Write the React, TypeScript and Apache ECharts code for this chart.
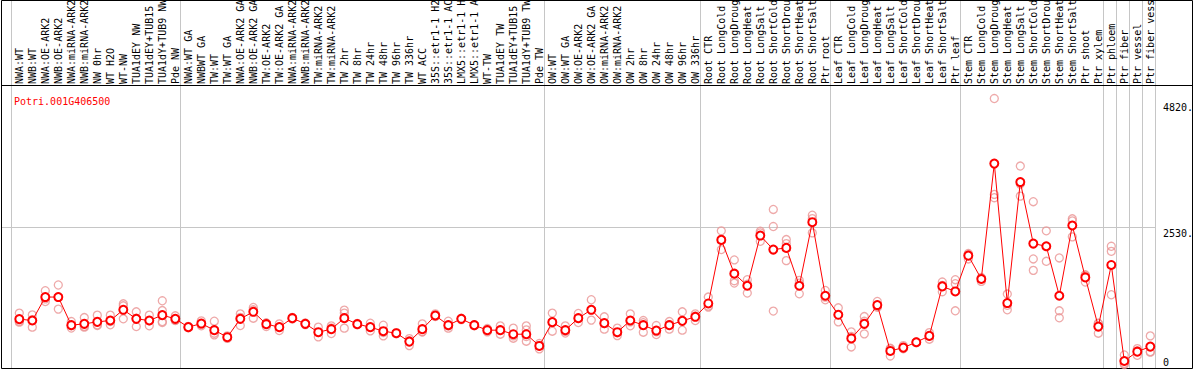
import React, { useEffect, useRef } from "react";
import * as echarts from "echarts";

const TITLE = "Potri.001G406500";

const groupSizes = [13, 28, 12, 10, 10, 11, 1, 1, 1, 1];

const categories = [
  "NWA:WT", "NWB:WT", "NWA:OE-ARK2", "NWB:OE-ARK2", "NWA:miRNA-ARK2", "NWB:miRNA-ARK2", "NW 0hr", "WT H2O", "WT-NW", "TUA1dEY NW", "TUA1dEY+TUB15", "TUA1dY+TUB9 NW", "Pde NW",
  "NWA:WT GA", "NWBWT GA", "TW:WT", "TW:WT GA", "NWA:OE-ARK2 GA", "NWB:OE-ARK2 GA", "TW:OE-ARK2", "TW:OE-ARK2 GA", "NWA:miRNA-ARK2 GA", "NWB:miRNA-ARK2 GA", "TW:miRNA-ARK2", "TW:miRNA-ARK2 GA", "TW 2hr", "TW 8hr", "TW 24hr", "TW 48hr", "TW 96hr", "TW 336hr", "WT ACC", "35S::etr1-1 H2O", "35S::etr1-1 ACC", "LMX5::etr1-1 H2O", "LMX5::etr1-1 ACC", "WT-TW", "TUA1dEY TW", "TUA1dEY+TUB15", "TUA1dY+TUB9 TW", "Pde TW",
  "OW:WT", "OW:WT GA", "OW:OE-ARK2", "OW:OE-ARK2 GA", "OW:miRNA-ARK2", "OW:miRNA-ARK2 GA", "OW 2hr", "OW 8hr", "OW 24hr", "OW 48hr", "OW 96hr", "OW 336hr",
  "Root CTR", "Root LongCold", "Root LongDrought", "Root LongHeat", "Root LongSalt", "Root ShortCold", "Root ShortDrought", "Root ShortHeat", "Root ShortSalt", "Ptr root",
  "Leaf CTR", "Leaf LongCold", "Leaf LongDrought", "Leaf LongHeat", "Leaf LongSalt", "Leaf ShortCold", "Leaf ShortDrought", "Leaf ShortHeat", "Leaf ShortSalt", "Ptr leaf",
  "Stem CTR", "Stem LongCold", "Stem LongDrought", "Stem LongHeat", "Stem LongSalt", "Stem ShortCold", "Stem ShortDrought", "Stem ShortHeat", "Stem ShortSalt", "Ptr shoot", "Ptr xylem",
  "Ptr phloem", "Ptr fiber", "Ptr vessel", "Ptr fiber vessel",
];

const means = [
  889, 864, 1282, 1282, 781, 805, 840, 864, 1055, 894, 864, 960, 894,
  746, 810, 692, 567, 894, 1019, 799, 746, 906, 805, 656, 710, 906, 799, 746, 674, 638, 488, 710, 953, 781, 894, 781, 692, 692, 620, 620, 411,
  835, 692, 906, 1055, 817, 656, 864, 781, 685, 781, 858, 930,
  1168, 2301, 1699, 1484, 2378, 2128, 2158, 1484, 2616, 1305,
  966, 545, 805, 1139, 322, 381, 477, 590, 1472, 1382,
  2020, 1604, 3660, 1175, 3331, 2235, 2187, 1305, 2557, 1632, 756,
  1854, 143, 309, 399,
];

const replicates = [
  [996, 850, 835], [965, 746, 880], [1395, 1203, 1250], [1497, 1067, 1282], [846, 769, 730],
  [917, 746, 760], [960, 787, 775], [960, 787, 845], [1162, 1126, 894], [1019, 756, 905],
  [960, 769, 860], [1216, 1042, 846, 828], [948, 864, 870], [760, 735, 745], [858, 769, 800],
  [852, 638, 608], [590, 545, 567], [983, 775, 920], [1096, 1055, 905], [756, 820, 820],
  [805, 685, 748], [906, 890, 920], [805, 790, 820], [746, 572, 650], [769, 631, 730],
  [1049, 996, 728], [799, 790, 810], [817, 679, 746], [781, 590, 650], [638, 630, 645],
  [542, 417, 505], [805, 662, 665], [983, 940, 935], [852, 728, 765], [894, 880, 905],
  [781, 770, 790], [721, 662, 692], [769, 620, 690], [728, 549, 590], [769, 697, 578, 495],
  [358, 420, 455], [996, 674, 835], [769, 640, 670], [989, 828, 900], [1234, 871, 1060],
  [930, 710, 810], [728, 595, 645], [983, 769, 840], [864, 656, 825], [775, 614, 665],
  [846, 710, 790], [1019, 692, 865], [983, 864, 945], [1282, 1103, 1120], [2462, 2128, 2310],
  [1944, 1573, 1532], [1591, 1353, 1510], [2455, 2426, 2276], [2843, 2539, 1032], [2307, 2235, 1931],
  [1579, 1341, 1530], [2741, 2426, 2680], [1400, 1234, 1280], [1091, 840, 966], [662, 393, 580],
  [935, 626, 850], [1203, 1120, 1100], [370, 232, 360], [417, 370, 360], [477, 470, 485],
  [649, 531, 590], [1550, 1377, 1490], [1591, 1037, 1520], [1961, 2060, 2040], [1561, 1620, 1630],
  [4820, 3111, 3052], [1336, 1055, 1135], [3617, 3081, 3295], [2981, 1961, 1758], [2462, 1919, 2180],
  [1979, 1037, 912], [2677, 2355, 2640], [1681, 1550, 1665], [817, 638, 810], [2187, 2097, 1323],
  [250, 80, 100], [363, 245, 320], [590, 309, 300],
];

const yTickValues = [0, 2530, 4820];
const yTickLabels = ["0", "2530.", "4820."];

export default function App() {
  const ref = useRef<HTMLDivElement>(null);

  useEffect(() => {
    const chart = echarts.init(ref.current!, null, { renderer: "svg" });
    const font = "'DejaVu Sans Mono', 'Liberation Mono', monospace";
    const dataMax = Math.max(...replicates.flat(), ...means);
    const yMax = dataMax * 1.05;

    const repData: number[][] = [];
    replicates.forEach((reps, i) => reps.forEach((v) => repData.push([i, v])));

    chart.setOption({
      animation: false,
      backgroundColor: "#ffffff",
      title: {
        text: TITLE,
        left: 9,
        top: 91,
        textStyle: { color: "#ff0000", fontSize: 10, fontFamily: font, fontWeight: "normal" },
      },
      grid: {
        left: 12.8,
        right: 37.2,
        top: 85,
        bottom: 1,
        containLabel: false,
        outerBoundsMode: "none",
      },
      xAxis: {
        type: "category",
        position: "top",
        data: categories,
        boundaryGap: true,
        axisLine: { show: false },
        axisTick: { show: false },
        splitLine: { show: false },
        axisLabel: {
          interval: 0,
          rotate: 90,
          margin: 1,
          align: "left",
          verticalAlign: "middle",
          hideOverlap: false,
          width: 89.5,
          overflow: "truncate",
          ellipsis: "",
          fontSize: 10,
          fontFamily: font,
          color: "#000000",
        },
      },
      yAxis: {
        type: "value",
        position: "right",
        min: 0,
        max: yMax,
        axisLine: { show: false },
        axisTick: { show: false },
        axisLabel: { show: false },
        splitLine: { show: false },
      },
      series: [
        {
          type: "scatter",
          data: repData,
          symbol: "circle",
          symbolSize: 8,
          silent: true,
          z: 2,
          itemStyle: { color: "rgba(0,0,0,0)", borderColor: "#ea9494", borderWidth: 1.3 },
        },
        {
          type: "line",
          data: means,
          symbol: "emptyCircle",
          symbolSize: 8,
          showAllSymbol: true,
          silent: true,
          z: 3,
          lineStyle: { color: "#ff0000", width: 1 },
          itemStyle: { color: "#ff0000", borderColor: "#ff0000", borderWidth: 1.8 },
        },
      ],
    });

    const px = (i: number) => chart.convertToPixel({ gridIndex: 0 }, [i, 0])[0];
    const py = (v: number) => chart.convertToPixel({ gridIndex: 0 }, [0, v])[1];
    const band = px(1) - px(0);
    const last = categories.length - 1;
    const xAt = (b: number) => (b <= last ? px(b) : px(last) + band * (b - last));

    const boundaries: number[] = [0];
    groupSizes.reduce((acc, s) => {
      boundaries.push(acc + s);
      return acc + s;
    }, 0);

    const gray = "#c6c6c6";
    const graphics: any[] = [];
    boundaries.forEach((b) => {
      const x = Math.round(xAt(b) - band * 0.64) + 0.5;
      graphics.push({
        type: "line",
        silent: true,
        z: 0,
        shape: { x1: x, y1: 0, x2: x, y2: 369 },
        style: { stroke: gray, lineWidth: 1 },
      });
    });
    const rightEdge = Math.round(xAt(last + 1) - band * 0.64) + 0.5;
    const midY = Math.round(py(yMax / 2)) + 0.5;
    graphics.push({
      type: "line",
      silent: true,
      z: 0,
      shape: { x1: 1, y1: midY, x2: rightEdge, y2: midY },
      style: { stroke: gray, lineWidth: 1 },
    });
    graphics.push({
      type: "line",
      silent: true,
      z: 0,
      shape: { x1: 1, y1: 85.5, x2: 1193, y2: 85.5 },
      style: { stroke: "#000000", lineWidth: 1 },
    });
    graphics.push({
      type: "rect",
      silent: true,
      z: 0,
      shape: { x: 1.5, y: 0.5, width: 1191, height: 368 },
      style: { stroke: "#000000", fill: "none", lineWidth: 1 },
    });
    const offsets = [-7, 6, 9];
    yTickValues.forEach((v, k) => {
      graphics.push({
        type: "text",
        silent: true,
        z: 5,
        x: 1163,
        y: py(v) + offsets[k],
        style: {
          text: yTickLabels[k],
          fill: "#000000",
          fontSize: 10,
          fontFamily: font,
          align: "left",
          verticalAlign: "middle",
        },
      });
    });

    chart.setOption({ graphic: graphics });

    return () => chart.dispose();
  }, []);

  return (
    <div
      ref={ref}
      style={{ position: "fixed", left: 0, top: 0, width: 1194, height: 370, background: "#fff" }}
    />
  );
}
